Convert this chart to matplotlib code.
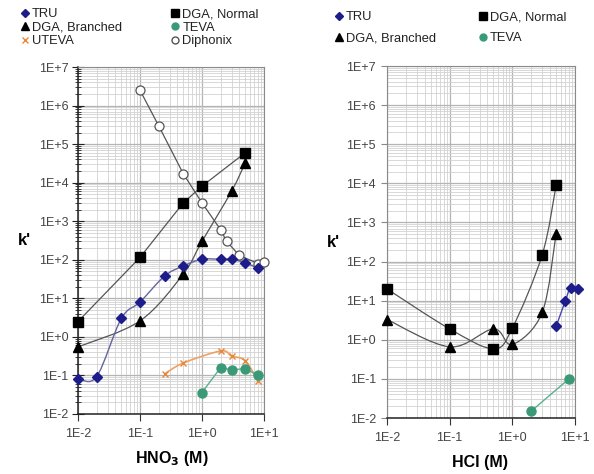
import numpy as np
import matplotlib
matplotlib.use('Agg')
import matplotlib.pyplot as plt
from matplotlib.path import Path
from matplotlib.patches import PathPatch
from matplotlib.lines import Line2D
from matplotlib.ticker import LogLocator, FixedLocator, NullFormatter

plt.rcParams['font.family'] = ['Liberation Sans', 'DejaVu Sans']

# HNO3 panel data
hno3_tru_x = [0.01, 0.02, 0.05, 0.1, 0.25, 0.5, 1, 2, 3, 5, 8]
hno3_tru_y = [0.083, 0.093, 3, 8, 38, 69, 103, 103, 103, 83, 60]
hno3_dgan_x = [0.01, 0.1, 0.5, 1, 5]
hno3_dgan_y = [2.5, 115, 3000, 8100, 60000]
hno3_dgab_x = [0.01, 0.1, 0.5, 1, 3, 5]
hno3_dgab_y = [0.55, 2.6, 43, 300, 6000, 33000]
hno3_teva_x = [1, 2, 3, 5, 8]
hno3_teva_y = [0.036, 0.16, 0.14, 0.15, 0.10]
hno3_uteva_x = [0.25, 0.5, 2, 3, 5, 8]
hno3_uteva_y = [0.11, 0.21, 0.43, 0.32, 0.24, 0.072]
hno3_diph_x = [0.1, 0.2, 0.5, 1, 2, 2.5, 4, 8, 10]
hno3_diph_y = [2.5e6, 3e5, 1.7e4, 3000, 600, 300, 130, 80, 90]

# HCl panel data
hcl_dgan_x = [0.01, 0.1, 0.5, 1, 3, 5]
hcl_dgan_y = [20, 1.9, 0.59, 2.0, 150, 9000]
hcl_dgab_x = [0.01, 0.1, 0.5, 1, 3, 5]
hcl_dgab_y = [3.3, 0.66, 1.9, 0.76, 5, 520]
hcl_tru_x = [5, 7, 8.5, 11]
hcl_tru_y = [2.2, 9.8, 21.5, 19.5]
hcl_teva_x = [2, 8]
hcl_teva_y = [0.015, 0.1]

xticks = [0.01, 0.1, 1, 10]
xticklabels = ['1E-2', '1E-1', '1E+0', '1E+1']
yticks = [1e-2, 1e-1, 1, 10, 1e2, 1e3, 1e4, 1e5, 1e6, 1e7]
yticklabels = ['1E-2', '1E-1', '1E+0', '1E+1', '1E+2', '1E+3', '1E+4', '1E+5', '1E+6', '1E+7']

NAVY = '#1c1c8a'
GREEN = '#3a9a78'
ORANGE = '#e8873a'


def smooth_line(ax, x, y, color, lw=1.0):
    # Excel-like smoothed line (Catmull-Rom bezier in log space)
    pts = np.column_stack([np.log10(x), np.log10(y)])
    n = len(pts)
    verts = [pts[0]]
    codes = [Path.MOVETO]
    for i in range(n - 1):
        p0 = pts[i - 1] if i > 0 else pts[i]
        p1, p2 = pts[i], pts[i + 1]
        p3 = pts[i + 2] if i + 2 < n else pts[i + 1]
        verts += [p1 + (p2 - p0) / 6, p2 - (p3 - p1) / 6, p2]
        codes += [Path.CURVE4] * 3
    verts = 10 ** np.array(verts)
    ax.add_patch(PathPatch(Path(verts, codes), fc='none', ec=color, lw=lw,
                           transform=ax.transData, zorder=2, clip_on=False))


def style_axes(ax, dark_left):
    ax.set_xscale('log')
    ax.set_yscale('log')
    ax.set_xlim(0.01, 10)
    ax.set_ylim(1e-2, 1e7)
    ax.xaxis.set_major_locator(FixedLocator(xticks))
    ax.set_xticklabels(xticklabels)
    ax.yaxis.set_major_locator(FixedLocator(yticks))
    ax.set_yticklabels(yticklabels)
    ax.xaxis.set_minor_locator(LogLocator(base=10, subs=np.arange(2, 10), numticks=100))
    ax.yaxis.set_minor_locator(LogLocator(base=10, subs=np.arange(2, 10), numticks=100))
    ax.xaxis.set_minor_formatter(NullFormatter())
    ax.yaxis.set_minor_formatter(NullFormatter())
    ax.grid(True, which='major', color='#b4b4b4', lw=0.9)
    ax.grid(True, which='minor', color='#d2d2d2', lw=0.6)
    ax.set_axisbelow(True)
    for s in ['top', 'right']:
        ax.spines[s].set_color('#8a8a8a')
    ax.spines['bottom'].set_color('#222222')
    ax.spines['bottom'].set_linewidth(1.1)
    ax.tick_params(axis='x', which='major', direction='out', length=5,
                   color='#333333', labelsize=9, labelcolor='#444444', pad=5)
    ax.tick_params(axis='x', which='minor', length=0)
    if dark_left:
        ax.spines['left'].set_color('#222222')
        ax.spines['left'].set_linewidth(1.1)
        ax.tick_params(axis='y', which='major', direction='inout', length=8,
                       color='#222222', labelsize=9, labelcolor='#444444', pad=3)
        ax.tick_params(axis='y', which='minor', direction='inout', length=5,
                       color='#222222')
    else:
        ax.spines['left'].set_color('#8a8a8a')
        ax.tick_params(axis='y', which='major', direction='out', length=4,
                       color='#8a8a8a', labelsize=9, labelcolor='#444444', pad=4)
        ax.tick_params(axis='y', which='minor', length=0)


fig = plt.figure(figsize=(5.94, 4.74), dpi=100)
ax1 = fig.add_axes([0.1313, 0.1266, 0.3131, 0.732])
ax2 = fig.add_axes([0.6515, 0.1181, 0.3165, 0.7426])
style_axes(ax1, True)
style_axes(ax2, False)

# ---- HNO3 panel ----
ax1.plot(hno3_diph_x, hno3_diph_y, color='#555555', lw=0.9, zorder=2)
ax1.plot(hno3_dgan_x, hno3_dgan_y, color='#555555', lw=0.9, zorder=2)
smooth_line(ax1, hno3_dgab_x, hno3_dgab_y, '#555555', 0.9)
smooth_line(ax1, hno3_tru_x, hno3_tru_y, '#6464a0', 1.0)
smooth_line(ax1, hno3_uteva_x, hno3_uteva_y, '#f0a060', 1.2)
ax1.plot(hno3_teva_x, hno3_teva_y, color='#5ab090', lw=1.0, zorder=2)

ax1.plot(hno3_diph_x, hno3_diph_y, 'o', ms=6.5, mfc='white', mec='#555555', mew=0.9, ls='none', zorder=3, clip_on=False)
ax1.plot(hno3_dgan_x, hno3_dgan_y, 's', ms=6.5, color='black', ls='none', zorder=3, clip_on=False)
ax1.plot(hno3_dgab_x, hno3_dgab_y, '^', ms=7, color='black', ls='none', zorder=3, clip_on=False)
ax1.plot(hno3_tru_x, hno3_tru_y, 'D', ms=5.5, color=NAVY, ls='none', zorder=4, clip_on=False)
ax1.plot(hno3_uteva_x, hno3_uteva_y, 'x', ms=5, color=ORANGE, mew=1.0, ls='none', zorder=3, clip_on=False)
ax1.plot(hno3_teva_x, hno3_teva_y, 'o', ms=6.5, color=GREEN, ls='none', zorder=3, clip_on=False)

# ---- HCl panel ----
smooth_line(ax2, hcl_dgan_x, hcl_dgan_y, '#555555', 0.9)
smooth_line(ax2, hcl_dgab_x, hcl_dgab_y, '#555555', 0.9)
smooth_line(ax2, hcl_tru_x, hcl_tru_y, '#4848b0', 1.0)
ax2.plot(hcl_teva_x, hcl_teva_y, color='#5ab090', lw=1.0, zorder=2)

ax2.plot(hcl_dgan_x, hcl_dgan_y, 's', ms=6.5, color='black', ls='none', zorder=3, clip_on=False)
ax2.plot(hcl_dgab_x, hcl_dgab_y, '^', ms=7, color='black', ls='none', zorder=3, clip_on=False)
ax2.plot(hcl_tru_x, hcl_tru_y, 'D', ms=4.8, color=NAVY, ls='none', zorder=4, clip_on=False)
ax2.plot(hcl_teva_x, hcl_teva_y, 'o', ms=6.5, color=GREEN, ls='none', zorder=3, clip_on=False)

# axis titles
fig.text(24 / 594, 1 - 240 / 474, "k'", fontsize=12, fontweight='bold', ha='center', va='center')
fig.text(333 / 594, 1 - 243 / 474, "k'", fontsize=12, fontweight='bold', ha='center', va='center')
fig.text(172 / 594, 1 - 459 / 474, r'HNO$_\mathbf{3}$ (M)', fontsize=11.5, fontweight='bold', ha='center', va='center')
fig.text(480 / 594, 1 - 462 / 474, 'HCl (M)', fontsize=11.5, fontweight='bold', ha='center', va='center')


def handle(marker, color, ms, mfc=None):
    return Line2D([], [], marker=marker, ls='none', color=color, ms=ms,
                  mfc=mfc if mfc else color, mec=color)


left_handles = [handle('D', NAVY, 4.5), handle('^', 'black', 5.5), handle('x', ORANGE, 4.5),
                handle('s', 'black', 5.5), handle('o', GREEN, 5), handle('o', '#555555', 5, 'white')]
left_labels = ['TRU', 'DGA, Branched', 'UTEVA', 'DGA, Normal', 'TEVA', 'Diphonix']
fig.legend(left_handles, left_labels, ncol=2, loc='upper left', bbox_to_anchor=(20 / 594, 1 - 8 / 474),
           frameon=False, fontsize=9.3, handlelength=0.7, handletextpad=0.2, labelspacing=0.12,
           columnspacing=3.8, borderpad=0, borderaxespad=0, labelcolor='#222222')

right_handles = [handle('D', NAVY, 4.5), handle('^', 'black', 5.5),
                 handle('s', 'black', 5.5), handle('o', GREEN, 5)]
right_labels = ['TRU', 'DGA, Branched', 'DGA, Normal', 'TEVA']
fig.legend(right_handles, right_labels, ncol=2, loc='upper left', bbox_to_anchor=(334 / 594, 1 - 11 / 474),
           frameon=False, fontsize=9.3, handlelength=0.7, handletextpad=0.2, labelspacing=0.7,
           columnspacing=3.3, borderpad=0, borderaxespad=0, labelcolor='#222222')

fig.savefig('out.png', dpi=100)
